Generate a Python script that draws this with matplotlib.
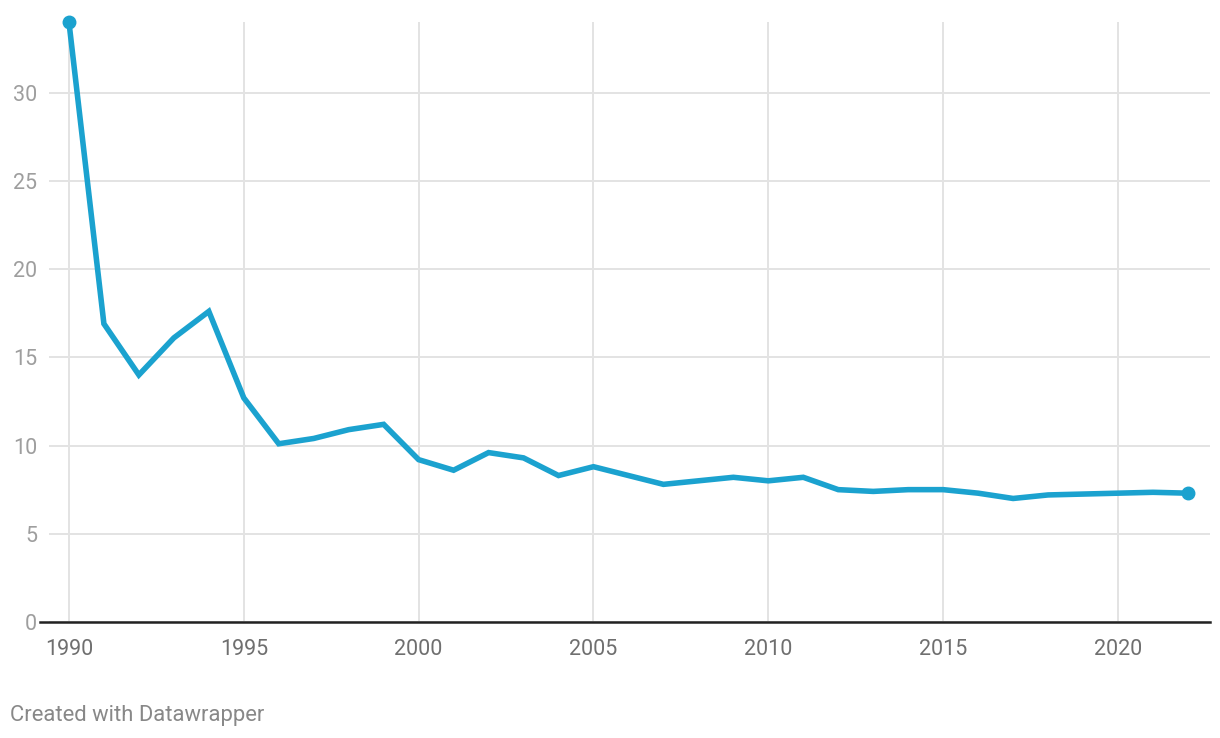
import matplotlib
matplotlib.use("Agg")
import matplotlib.pyplot as plt

# data
years = list(range(1990, 2023))
values = [34.0, 16.9, 14.0, 16.1, 17.6, 12.7, 10.1, 10.4, 10.9, 11.2,
          9.2, 8.6, 9.6, 9.3, 8.3, 8.8, 8.3, 7.8, 8.0, 8.2,
          8.0, 8.2, 7.5, 7.4, 7.5, 7.5, 7.3, 7.0, 7.2, 7.25,
          7.3, 7.35, 7.3]
xticks = [1990, 1995, 2000, 2005, 2010, 2015, 2020]
yticks = [0, 5, 10, 15, 20, 25, 30]

plt.rcParams['font.family'] = ['Roboto', 'DejaVu Sans']

W, H = 1220, 738
fig = plt.figure(figsize=(W / 100, H / 100), dpi=100)
ax = fig.add_axes([49 / W, 116 / H, 1161 / W, 600 / H])

line_col = '#1ba2cf'
ax.plot(years, values, color=line_col, lw=4.0, solid_joinstyle='miter', zorder=3,
        clip_on=False)
ax.plot([years[0], years[-1]], [values[0], values[-1]], 'o', color=line_col,
        ms=9, zorder=4, clip_on=False)

ax.set_xlim(1989.43, 2022.63)
ax.set_ylim(0, 34)
ax.set_xticks(xticks)
ax.set_yticks(yticks)
ax.grid(True, color='#e3e3e3', lw=1.4, zorder=0)
ax.tick_params(length=0)
ax.tick_params(axis='y', pad=8.5, labelsize=15.5, labelcolor='#9e9e9e')
ax.tick_params(axis='x', pad=12, labelsize=15.5, labelcolor='#6f6f6f')
for s in ax.spines.values():
    s.set_visible(False)
ax.axhline(0, xmin=-9 / 1161, xmax=1, color='#222222', lw=1.8, clip_on=False, zorder=2)

fig.text(10 / W, 1 - 716 / H, 'Created with Datawrapper', fontsize=15.8,
         color='#888888', va='center', ha='left')

fig.savefig('out.png', dpi=100)
